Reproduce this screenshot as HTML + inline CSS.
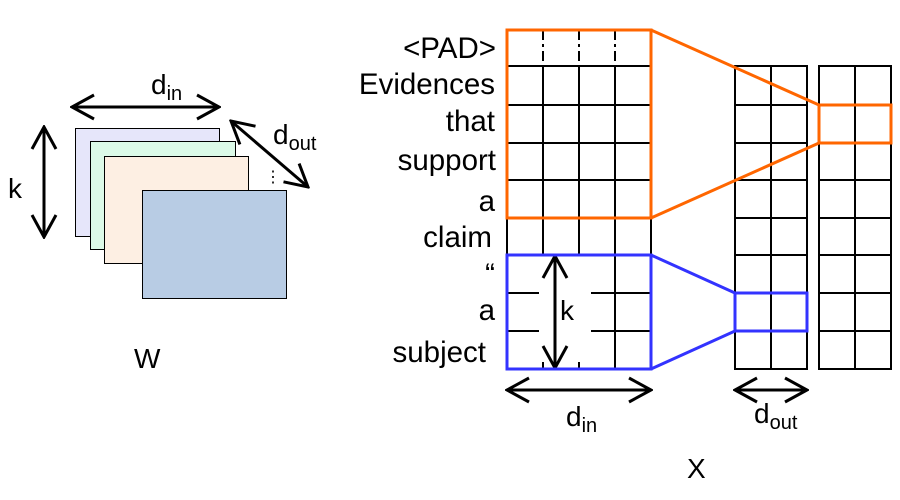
<!DOCTYPE html>
<html><head><meta charset="utf-8"><style>
html,body{margin:0;padding:0;background:#fff}
svg{display:block}
text{font-family:"Liberation Sans",Arial,sans-serif;fill:#000}
</style></head><body>
<svg width="900" height="500" viewBox="0 0 900 500">
<defs>
<marker id="ah" viewBox="0 0 26 28" refX="24" refY="14" markerWidth="26" markerHeight="28" markerUnits="userSpaceOnUse" orient="auto-start-reverse">
<path d="M2,2 L24,14 L2,26" fill="none" stroke="#000" stroke-width="3"/>
</marker>
</defs>
<!-- Left: filter stack -->
<g stroke="#000" stroke-width="1">
<rect x="75.5" y="128.5" width="144" height="108" fill="#e6e6fa"/>
<rect x="90.5" y="141.5" width="145" height="108" fill="#dcfae8"/>
<rect x="104.5" y="156.5" width="144" height="107" fill="#fdefe3"/>
<rect x="142.5" y="190.5" width="144" height="108" fill="#b8cce4"/>
</g>
<line x1="72" y1="107" x2="219" y2="107" stroke="#000" stroke-width="3" marker-start="url(#ah)" marker-end="url(#ah)"/>
<text x="151" y="94" font-size="28">d<tspan font-size="20" dy="6">in</tspan></text>
<line x1="44" y1="127" x2="44" y2="237" stroke="#000" stroke-width="3" marker-start="url(#ah)" marker-end="url(#ah)"/>
<text x="8" y="198" font-size="28">k</text>
<line x1="231" y1="121" x2="308" y2="187" stroke="#000" stroke-width="3" marker-start="url(#ah)" marker-end="url(#ah)"/>
<text x="273" y="144" font-size="28">d<tspan font-size="20" dy="6">out</tspan></text>
<text x="265" y="182" font-size="16">⋮</text>
<text x="134" y="368" font-size="28">W</text>

<!-- token labels -->
<g font-size="29.5" text-anchor="end">
<text x="496" y="58">&lt;PAD&gt;</text>
<text x="495" y="94">Evidences</text>
<text x="495" y="131">that</text>
<text x="496" y="170">support</text>
<text x="495" y="211">a</text>
<text x="492" y="247">claim</text>
<text x="495" y="284">“</text>
<text x="495" y="320">a</text>
<text x="486" y="362">subject</text>
</g>

<!-- main grid X -->
<g stroke="#000" stroke-width="2" fill="none">
<line x1="507" y1="30" x2="507" y2="369"/>
<line x1="651" y1="30" x2="651" y2="369"/>
<line x1="543" y1="66" x2="543" y2="255"/>
<line x1="579" y1="66" x2="579" y2="255"/>
<line x1="615" y1="66" x2="615" y2="369"/>
<line x1="543" y1="30" x2="543" y2="62" stroke-dasharray="10,4,3,4"/>
<line x1="579" y1="30" x2="579" y2="62" stroke-dasharray="10,4,3,4"/>
<line x1="615" y1="30" x2="615" y2="62" stroke-dasharray="10,4,3,4"/>
<line x1="543" y1="362" x2="543" y2="369"/>
<line x1="579" y1="362" x2="579" y2="369"/>
<line x1="507" y1="66" x2="651" y2="66"/>
<line x1="507" y1="105" x2="651" y2="105"/>
<line x1="507" y1="143" x2="651" y2="143"/>
<line x1="507" y1="180" x2="651" y2="180"/>
<line x1="507" y1="218" x2="651" y2="218"/>
<line x1="507" y1="255" x2="651" y2="255"/>
<line x1="507" y1="293" x2="539" y2="293"/>
<line x1="591" y1="293" x2="651" y2="293"/>
<line x1="507" y1="331" x2="539" y2="331"/>
<line x1="591" y1="331" x2="651" y2="331"/>
<line x1="507" y1="369" x2="651" y2="369"/>
</g>
<line x1="555" y1="256" x2="555" y2="368" stroke="#000" stroke-width="3" marker-start="url(#ah)" marker-end="url(#ah)"/>
<text x="560" y="320" font-size="28">k</text>

<!-- output grids -->
<g stroke="#000" stroke-width="2" fill="none">
<rect x="735" y="66" width="72" height="303"/>
<line x1="771" y1="66" x2="771" y2="369"/>
<line x1="735" y1="105" x2="807" y2="105"/><line x1="735" y1="143" x2="807" y2="143"/>
<line x1="735" y1="180" x2="807" y2="180"/><line x1="735" y1="218" x2="807" y2="218"/>
<line x1="735" y1="255" x2="807" y2="255"/><line x1="735" y1="293" x2="807" y2="293"/>
<line x1="735" y1="331" x2="807" y2="331"/>
</g>
<g stroke="#000" stroke-width="2" fill="none">
<rect x="819" y="66" width="72" height="303"/>
<line x1="855" y1="66" x2="855" y2="369"/>
<line x1="819" y1="105" x2="891" y2="105"/><line x1="819" y1="143" x2="891" y2="143"/>
<line x1="819" y1="180" x2="891" y2="180"/><line x1="819" y1="218" x2="891" y2="218"/>
<line x1="819" y1="255" x2="891" y2="255"/><line x1="819" y1="293" x2="891" y2="293"/>
<line x1="819" y1="331" x2="891" y2="331"/>
</g>

<!-- orange window -->
<g stroke="#ff6600" stroke-width="3" fill="none">
<rect x="507" y="30" width="144" height="188"/>
<line x1="651" y1="30" x2="819" y2="105"/>
<line x1="651" y1="218" x2="819" y2="143"/>
<rect x="819" y="105" width="72" height="38"/>
</g>
<!-- blue window -->
<g stroke="#3333ff" stroke-width="3" fill="none">
<rect x="507" y="255" width="144" height="114"/>
<line x1="651" y1="255" x2="735" y2="293"/>
<line x1="651" y1="369" x2="735" y2="331"/>
<rect x="735" y="293" width="72" height="38"/>
</g>

<line x1="507" y1="390" x2="651" y2="390" stroke="#000" stroke-width="3" marker-start="url(#ah)" marker-end="url(#ah)"/>
<text x="566" y="426" font-size="28">d<tspan font-size="20" dy="6">in</tspan></text>
<line x1="735" y1="390" x2="807" y2="390" stroke="#000" stroke-width="3" marker-start="url(#ah)" marker-end="url(#ah)"/>
<text x="754" y="423" font-size="28">d<tspan font-size="20" dy="6">out</tspan></text>
<text x="687" y="478" font-size="28">X</text>
</svg>
</body></html>
